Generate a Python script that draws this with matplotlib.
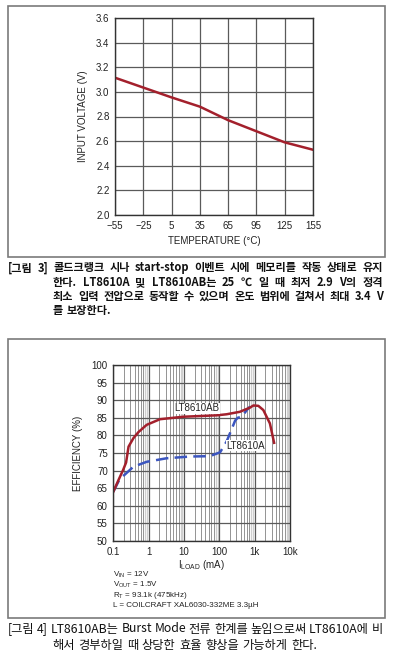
import matplotlib.pyplot as plt
from matplotlib import font_manager
from matplotlib.patches import Rectangle
from matplotlib.ticker import FixedLocator, NullFormatter

# the original uses a condensed sans; take the narrow Liberation face if it exists
names = {f.name for f in font_manager.fontManager.ttflist}
if 'Liberation Sans Narrow' in names:
    base, fs, cond_fs = 'Liberation Sans Narrow', 8.0, 7.0
else:
    base, fs, cond_fs = 'Liberation Sans', 7.0, 5.8
plt.rcParams['font.family'] = [base, 'DejaVu Sans']
plt.rcParams['mathtext.fontset'] = 'custom'
plt.rcParams['mathtext.rm'] = base

# figure 3: minimum input voltage vs temperature
temp = [-55, -25, 5, 35, 65, 95, 125, 155]
vin_min = [3.115, 3.035, 2.955, 2.88, 2.77, 2.68, 2.59, 2.53]
temp_ticks = [-55, -25, 5, 35, 65, 95, 125, 155]
temp_labels = ["\u221255", "\u221225", "5", "35", "65", "95", "125", "155"]
volt_ticks = [2.0, 2.2, 2.4, 2.6, 2.8, 3.0, 3.2, 3.4, 3.6]

# figure 4: efficiency vs load current
iload_ab = [0.1, 0.14, 0.19, 0.23, 0.27, 0.37, 0.51, 0.88, 2.1, 9.5, 84, 160, 380, 740, 920, 1270, 1760, 2700, 3550]
eff_ab = [64.0, 67.3, 70.2, 72.3, 76.8, 79.2, 80.9, 83.0, 84.6, 85.3, 85.7, 86.0, 86.7, 87.9, 88.5, 88.4, 87.2, 83.4, 77.9]
iload_a = [0.1, 0.15, 0.37, 0.88, 3.2, 15, 54, 105, 160, 280, 330, 430, 600, 740]
eff_a = [64.0, 67.5, 71.1, 72.5, 73.5, 74.0, 74.1, 75.2, 78.2, 84.2, 85.0, 85.3, 87.2, 88.2]
load_ticks = [0.1, 1, 10, 100, 1000, 10000]
load_labels = ["0.1", "1", "10", "100", "1k", "10k"]
eff_ticks = list(range(50, 101, 5))

caption3 = ["[그림 3] 콜드크랭크 시나 start-stop 이벤트 시에 메모리를 작동 상태로 유지",
            "한다. LT8610A 및 LT8610AB는 25 \u2103 일 때 최저 2.9 V의 정격",
            "최소 입력 전압으로 동작할 수 있으며 온도 범위에 걸쳐서 최대 3.4 V",
            "를 보장한다."]
caption4 = ["[그림 4] LT8610AB는 Burst Mode 전류 한계를 높임으로써 LT8610A에 비",
            "해서 경부하일 때 상당한 효율 향상을 가능하게 한다."]
conditions = [r"V$_\mathrm{IN}$ = 12V",
              r"V$_\mathrm{OUT}$ = 1.5V",
              r"R$_\mathrm{T}$ = 93.1k (475kHz)",
              "L = COILCRAFT XAL6030-332ME 3.3\u00b5H"]

W, H = 399, 669
fig = plt.figure(figsize=(W / 100, H / 100), dpi=100)
renderer = fig.canvas.get_renderer()

def fx(px):
    return px / W

def fy(py):
    return 1 - py / H

# outer frames
for top, bot in [(6, 257), (339, 618)]:
    fig.add_artist(Rectangle((fx(8), fy(bot)), fx(385 - 8), (bot - top) / H,
                             transform=fig.transFigure, fill=False,
                             edgecolor="#7a7a7a", linewidth=1.2))

red = "#a3202c"
blue = "#3b55bf"
grid_dark = "#5a5a5a"
txt = "#222222"

# ---- chart 1 ----
ax1 = fig.add_axes([fx(115), fy(215), fx(313 - 115), (215 - 18) / H])
ax1.plot(temp, vin_min, color=red, linewidth=1.8)
ax1.set_xlim(-55, 155)
ax1.set_ylim(2.0, 3.6)
ax1.set_xticks(temp_ticks)
ax1.set_xticklabels(temp_labels)
ax1.set_yticks(volt_ticks)
ax1.set_yticklabels([f"{v:.1f}" for v in volt_ticks])
ax1.grid(True, color=grid_dark, linewidth=0.9)
ax1.tick_params(length=0, labelsize=fs, pad=4, colors=txt)
ax1.set_xlabel("TEMPERATURE (\u00b0C)", fontsize=fs, labelpad=4, color=txt)
ax1.set_ylabel("INPUT VOLTAGE (V)", fontsize=fs, labelpad=6, color=txt)
for s in ax1.spines.values():
    s.set_color("#333333")
    s.set_linewidth(1.0)

# ---- chart 2 ----
ax2 = fig.add_axes([fx(113.3), fy(541), fx(290 - 113.3), (541 - 365) / H])
ax2.set_xscale("log")
ax2.set_xlim(0.1, 10000)
ax2.set_ylim(50, 100)
minor_dark = []
minor_light = []
for d in [0.1, 1, 10, 100, 1000]:
    for m in range(2, 10):
        (minor_dark if m < 8 else minor_light).append(d * m)
for xv in minor_light:
    ax2.axvline(xv, color="#cfcfcf", linewidth=0.9, zorder=0)
for xv in minor_dark:
    ax2.axvline(xv, color="#777777", linewidth=0.55, zorder=0)
ax2.set_xticks(load_ticks)
ax2.set_xticklabels(load_labels)
ax2.xaxis.set_minor_locator(FixedLocator(minor_dark + minor_light))
ax2.xaxis.set_minor_formatter(NullFormatter())
ax2.set_yticks(eff_ticks)
ax2.grid(True, which="major", color=grid_dark, linewidth=0.9)
ax2.tick_params(which="both", length=0, labelsize=fs, pad=4, colors=txt)
ax2.plot(iload_a, eff_a, color=blue, linewidth=1.8, dashes=(5, 2.5))
ax2.plot(iload_ab, eff_ab, color=red, linewidth=1.8)
ax2.text(23, 87.7, "LT8610AB", fontsize=fs, ha="center", va="center", color=txt,
         bbox=dict(facecolor="white", edgecolor="none", pad=0.3))
ax2.text(560, 77.1, "LT8610A", fontsize=fs, ha="center", va="center", color=txt,
         bbox=dict(facecolor="white", edgecolor="none", pad=0.3))
ax2.set_xlabel(r"I$_\mathrm{LOAD}$ (mA)", fontsize=fs, labelpad=1, color=txt)
ax2.set_ylabel("EFFICIENCY (%)", fontsize=fs, labelpad=6, color=txt)
for s in ax2.spines.values():
    s.set_color("#333333")
    s.set_linewidth(1.0)

for i, line in enumerate(conditions):
    fig.text(fx(113), fy(576 + i * 10.4), line, fontsize=cond_fs, va="baseline", color=txt)

# ---- captions (justified like the printed page) ----
kfont = ['Noto Sans CJK KR', 'DejaVu Sans']

def caption_line(line, x0, x1, y, size, weight, justify):
    words = line.split(" ")
    texts = [fig.text(0, fy(y), w, fontsize=size, va="center", family=kfont,
                      weight=weight, color="#111111") for w in words]
    widths = [t.get_window_extent(renderer).width for t in texts]
    space = size * 100 / 72 * 0.3
    if justify and len(words) > 1:
        space = max((x1 - x0 - sum(widths)) / (len(words) - 1), 1.0)
    x = x0
    for t, w in zip(texts, widths):
        t.set_x(fx(x))
        x += w + space

for i, line in enumerate(caption3):
    x0 = 8 if i == 0 else 53
    caption_line(line, x0, 383, 268 + i * 14.3, 8.0, "bold", i < len(caption3) - 1)
for i, line in enumerate(caption4):
    x0 = 8 if i == 0 else 52
    caption_line(line, x0, 383, 629 + i * 16, 8.8, "normal", i < len(caption4) - 1)

fig.savefig("out.png", dpi=100, facecolor="white")
